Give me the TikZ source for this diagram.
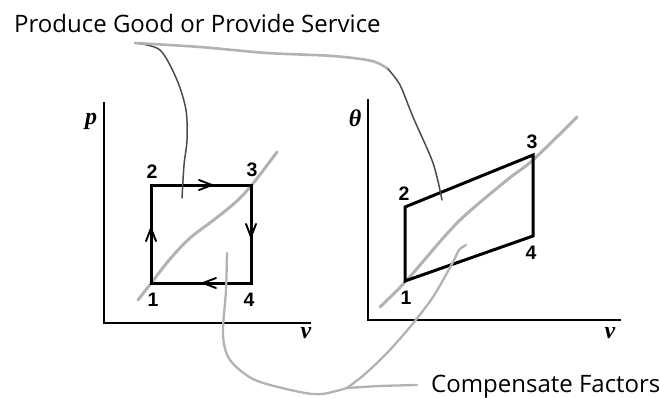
\documentclass[tikz,border=0pt]{standalone}
\usepackage{fontspec}
\usetikzlibrary{decorations.markings}
\newfontfamily\calloutfont{Open Sans}
\newfontfamily\numfont{Liberation Sans}
\newfontfamily\varfont{Liberation Serif}
\begin{document}
\begin{tikzpicture}[x=1pt,y=-1pt,
  axis/.style={line width=1.9pt, line cap=rect, line join=miter},
  cycleline/.style={line width=3pt, line join=miter, line cap=rect},
  trend/.style={line width=3pt, gray!60, line cap=round},
  pen/.style={line width=1.5pt, black!70, line cap=round},
  penlight/.style={line width=2.6pt, gray!60, line cap=round},
  penmid/.style={line width=2.3pt, gray!60, line cap=round},
  numlabel/.style={font=\numfont\bfseries\fontsize{19.5}{19.5}\selectfont, inner sep=0pt},
  varlabel/.style={font=\varfont\bfseries\itshape\fontsize{24}{24}\selectfont, inner sep=0pt},
  callout/.style={font=\calloutfont\fontsize{24}{24}\selectfont, inner sep=0pt, anchor=base west},
  chev/.style={postaction={decorate}, decoration={markings, mark=at position #1 with {\draw[line width=1.9pt, line cap=round, line join=miter] (-13pt,5pt) -- (0pt,0pt) -- (-13pt,-5pt);}}}
]
\useasboundingbox (0,0) rectangle (660,397);

% ---------- left plot (p-v) ----------
\coordinate (pTop) at (104,103);
\coordinate (pO) at (104,323);
\coordinate (pEnd) at (310,323);
\draw[axis] (pTop) -- (pO) -- (pEnd);
\node[varlabel] (pLab) at (91,121) {p};
\node[varlabel] (vLabA) at (306,333) {v};

\coordinate (a1) at (151,283);
\coordinate (a2) at (151,185);
\coordinate (a3) at (251,185);
\coordinate (a4) at (251,283);
\draw[trend] plot[smooth, tension=0.55] coordinates {(138,300) (152,282) (170,259) (190,238) (215,219) (238,200) (255,181) (277,152)};
\draw[cycleline] (a1) -- (a2) -- (a3) -- (a4) -- cycle;
\path[chev=0.56] (a1) -- (a2);
\path[chev=0.61] (a2) -- (a3);
\path[chev=0.53] (a3) -- (a4);
\path[chev=0.48] (a4) -- (a1);
\node[numlabel] (la1) at (153,300) {1};
\node[numlabel] (la2) at (152,172) {2};
\node[numlabel] (la3) at (252,170) {3};
\node[numlabel] (la4) at (249,300) {4};

% ---------- right plot (theta-v) ----------
\coordinate (tTop) at (368,100);
\coordinate (tO) at (368,320);
\coordinate (tEnd) at (620,320);
\draw[axis] (tTop) -- (tO) -- (tEnd);
\node[varlabel] (thLab) at (355,118) {θ};
\node[varlabel] (vLabB) at (610,333) {v};

\coordinate (b1) at (405,281);
\coordinate (b2) at (405,207);
\coordinate (b3) at (533,155);
\coordinate (b4) at (533,236);
\draw[trend] plot[smooth, tension=0.5] coordinates {(380,307) (407,280) (457,223) (507,180) (533,160) (577,117)};
\draw[cycleline] (b1) -- (b2) -- (b3) -- (b4) -- cycle;
\node[numlabel] (lb1) at (406,298) {1};
\node[numlabel] (lb2) at (404,194) {2};
\node[numlabel] (lb3) at (532,142) {3};
\node[numlabel] (lb4) at (531,253) {4};

% ---------- callouts ----------
\node[callout] (produce) at (14,32) {Produce Good or Provide Service};
\node[callout] (comp) at (431,392) {Compensate Factors};

\coordinate (ps) at (135,43);
\coordinate (pEndA) at (182,198);
\coordinate (pEndB) at (442,200);
\draw[pen] plot[smooth] coordinates {(ps) (160,50) (177,80) (186,110) (187,140) (184,165) (pEndA)};
\draw[penlight] plot[smooth] coordinates {(ps) (200,47) (267,53) (333,56) (372,61) (388,69)};
\draw[pen] plot[smooth] coordinates {(388,69) (400,85) (413,117) (433,163) (pEndB)};

\coordinate (cJoin) at (347,388);
\coordinate (cEnd) at (417,385);
\coordinate (cA) at (227,253);
\coordinate (cB) at (466,245);
\draw[penmid] plot[smooth] coordinates {(cA) (226,290) (223,335) (230,360) (255,380) (300,392) (322,394) (cJoin)};
\draw[penmid] plot[smooth] coordinates {(cJoin) (380,386) (cEnd)};
\draw[penmid] plot[smooth] coordinates {(cB) (459,250) (453,262) (433,297) (410,327) (387,353) (365,374) (cJoin)};
\end{tikzpicture}
\end{document}
